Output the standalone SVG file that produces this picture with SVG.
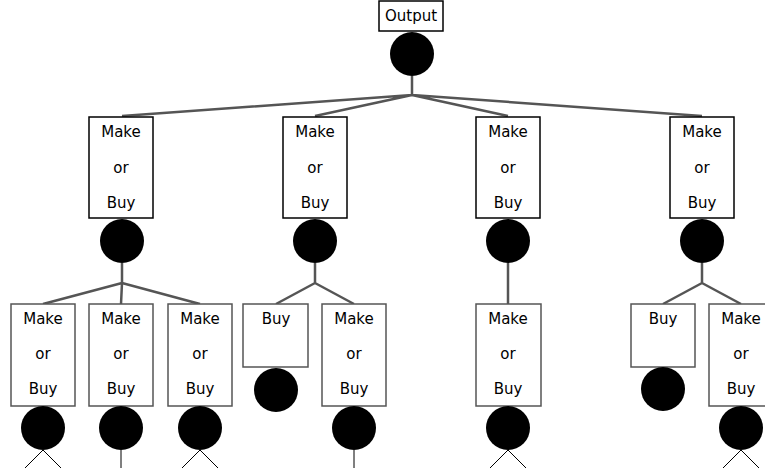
<svg xmlns="http://www.w3.org/2000/svg" width="765" height="474" viewBox="0 0 765 474">
<style>
.b1{fill:#fff;stroke:#000;stroke-width:1.5}
.b2{fill:#fff;stroke:#555;stroke-width:1.5}
.t{font-family:"DejaVu Sans",sans-serif;font-size:15px;fill:#000;text-anchor:middle}
.c{fill:#000}
.e{fill:none;stroke:#555;stroke-width:2.5}
.l{fill:none;stroke:#000;stroke-width:1}
</style>
<g id="connectors">
<path class="e" d="M412,76V95M412,95L122,116M412,95L315,116M412,95L508,116M412,95L702,116"/>
<path class="e" d="M122,263V283M122,283L43,304M122,283L121,304M122,283L200,304"/>
<path class="e" d="M315,263V283M315,283L276,304M315,283L354,304"/>
<path class="e" d="M508,263V304"/>
<path class="e" d="M702,263V283M702,283L663,304M702,283L741,304"/>
<path class="l" d="M43,450L25,468M43,450L61,468M121,450V468M200,450L182,468M200,450L218,468M354,450V468M508,450L490,468M508,450L526,468M741,450L723,468M741,450L759,468"/>
</g>
<g id="output"><rect class="b1" x="379" y="1" width="64" height="30"/><text class="t" x="411" y="21">Output</text><circle class="c" cx="412" cy="54" r="22"/></g>
<g id="mb1"><rect class="b1" x="89" y="117" width="64" height="101"/><text class="t" x="121" y="137">Make</text><text class="t" x="121" y="173">or</text><text class="t" x="121" y="208">Buy</text><circle class="c" cx="122" cy="241" r="22"/></g>
<g id="mb2"><rect class="b1" x="283" y="117" width="64" height="101"/><text class="t" x="315" y="137">Make</text><text class="t" x="315" y="173">or</text><text class="t" x="315" y="208">Buy</text><circle class="c" cx="315" cy="241" r="22"/></g>
<g id="mb3"><rect class="b1" x="476" y="117" width="64" height="101"/><text class="t" x="508" y="137">Make</text><text class="t" x="508" y="173">or</text><text class="t" x="508" y="208">Buy</text><circle class="c" cx="508" cy="241" r="22"/></g>
<g id="mb4"><rect class="b1" x="670" y="117" width="64" height="101"/><text class="t" x="702" y="137">Make</text><text class="t" x="702" y="173">or</text><text class="t" x="702" y="208">Buy</text><circle class="c" cx="702" cy="241" r="22"/></g>
<g id="mb11"><rect class="b2" x="11" y="304" width="64" height="102"/><text class="t" x="43" y="324">Make</text><text class="t" x="43" y="359">or</text><text class="t" x="43" y="394">Buy</text><circle class="c" cx="43" cy="428" r="22"/></g>
<g id="mb12"><rect class="b2" x="89" y="304" width="64" height="102"/><text class="t" x="121" y="324">Make</text><text class="t" x="121" y="359">or</text><text class="t" x="121" y="394">Buy</text><circle class="c" cx="121" cy="428" r="22"/></g>
<g id="mb13"><rect class="b2" x="168" y="304" width="64" height="102"/><text class="t" x="200" y="324">Make</text><text class="t" x="200" y="359">or</text><text class="t" x="200" y="394">Buy</text><circle class="c" cx="200" cy="428" r="22"/></g>
<g id="buy21"><rect class="b2" x="243" y="304" width="65" height="63"/><text class="t" x="276" y="324">Buy</text><circle class="c" cx="276" cy="390" r="22"/></g>
<g id="mb22"><rect class="b2" x="322" y="304" width="64" height="102"/><text class="t" x="354" y="324">Make</text><text class="t" x="354" y="359">or</text><text class="t" x="354" y="394">Buy</text><circle class="c" cx="354" cy="428" r="22"/></g>
<g id="mb31"><rect class="b2" x="476" y="304" width="65" height="102"/><text class="t" x="508" y="324">Make</text><text class="t" x="508" y="359">or</text><text class="t" x="508" y="394">Buy</text><circle class="c" cx="508" cy="428" r="22"/></g>
<g id="buy41"><rect class="b2" x="631" y="304" width="64" height="63"/><text class="t" x="663" y="324">Buy</text><circle class="c" cx="663" cy="389" r="22"/></g>
<g id="mb42"><rect class="b2" x="709" y="304" width="64" height="102"/><text class="t" x="741" y="324">Make</text><text class="t" x="741" y="359">or</text><text class="t" x="741" y="394">Buy</text><circle class="c" cx="741" cy="428" r="22"/></g>
</svg>
